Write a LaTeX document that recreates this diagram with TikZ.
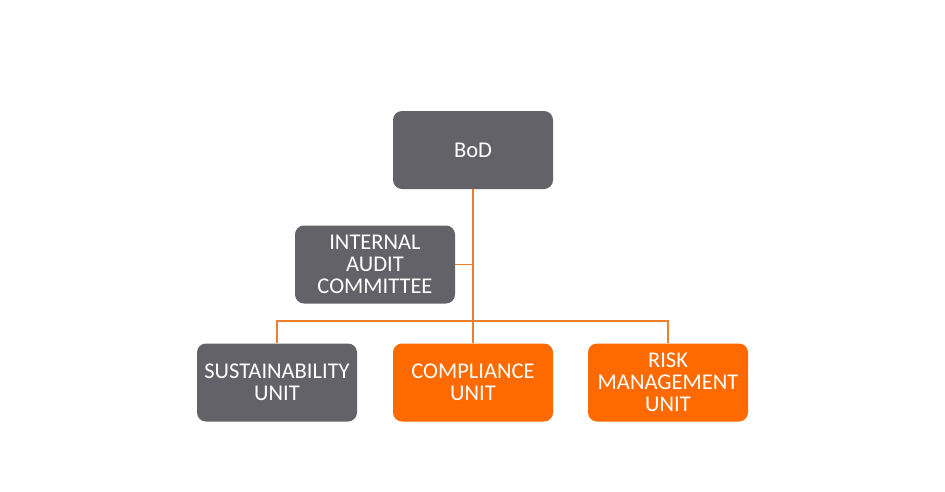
\documentclass[tikz,border=0pt]{standalone}
\usepackage{fontspec}
\setmainfont{Carlito}
\definecolor{boxgray}{HTML}{636268}
\definecolor{boxorange}{HTML}{FF6A00}
\definecolor{lineorange}{HTML}{F07F2A}
\tikzset{
	unit/.style={rounded corners=9pt, minimum width=160pt, minimum height=78pt, text=white, align=center, font=\fontsize{22.5}{22}\selectfont, inner sep=2pt},
	grayunit/.style={unit, fill=boxgray},
	orangeunit/.style={unit, fill=boxorange},
	link/.style={lineorange, line width=1.1pt}
}
\begin{document}
\begin{tikzpicture}[x=1pt,y=-1pt]
				\useasboundingbox (0,0) rectangle (945,491);
				\node[grayunit] (bod) at (473,150) {BoD};
				\node[grayunit] (audit) at (375,264.5) {INTERNAL\\AUDIT\\COMMITTEE};
				\node[grayunit] (sust) at (277,382.5) {SUSTAINABILITY\\UNIT};
				\node[orangeunit] (comp) at (473,382.5) {COMPLIANCE\\UNIT};
				\node[orangeunit] (risk) at (668,382.5) {RISK\\MANAGEMENT\\UNIT};
				\coordinate (bus) at (473,321);
				\draw [link] (bod) -- (bus);
				\draw [link] (audit.east) -- (audit.east -| bod.south);
				\draw [link] (sust.north) |- (bus) -| (risk.north);
				\draw [link] (comp.north) -- (bus);
\end{tikzpicture}
\end{document}
